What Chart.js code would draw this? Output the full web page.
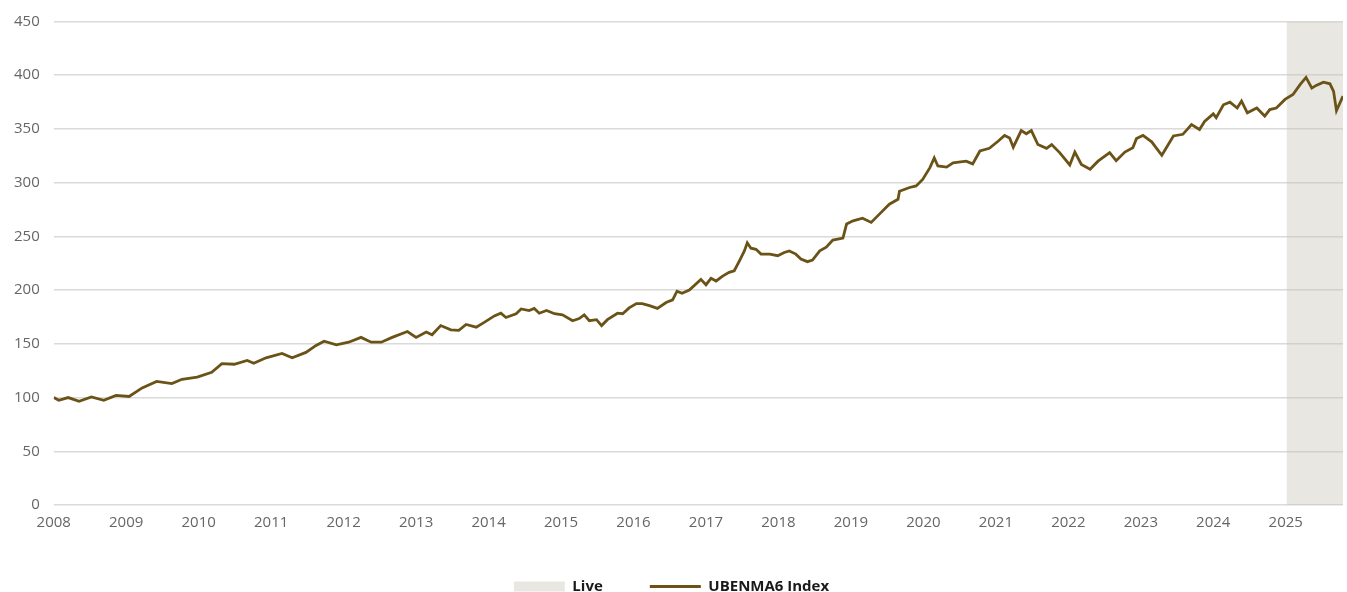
<!DOCTYPE html>
<html>
<head>
<meta charset="utf-8">
<script src="https://cdn.jsdelivr.net/npm/chart.js@4/dist/chart.umd.min.js"></script>
<style>
  html, body { margin: 0; padding: 0; background: #fff; }
  #wrap { width: 1347px; height: 592px; position: relative; }
</style>
</head>
<body>
<div id="wrap"><canvas id="indexChart"></canvas></div>
<script>
// Values (decimal year, index level)
const indexYears = [
  2008.00, 2008.07, 2008.20, 2008.35, 2008.52, 2008.69, 2008.86, 2009.04, 2009.22, 2009.42,
  2009.63, 2009.77, 2009.98, 2010.18, 2010.32, 2010.49, 2010.67, 2010.76, 2010.93, 2011.15,
  2011.29, 2011.48, 2011.62, 2011.73, 2011.90, 2012.07, 2012.24, 2012.38, 2012.52, 2012.67,
  2012.88, 2013.00, 2013.14, 2013.22, 2013.34, 2013.48, 2013.59, 2013.69, 2013.83, 2013.94,
  2014.08, 2014.17, 2014.24, 2014.38, 2014.45, 2014.56, 2014.63, 2014.70, 2014.80, 2014.91,
  2015.02, 2015.16, 2015.25, 2015.32, 2015.39, 2015.49, 2015.56, 2015.64, 2015.78, 2015.85,
  2015.94, 2016.04, 2016.12, 2016.22, 2016.33, 2016.45, 2016.54, 2016.60, 2016.67, 2016.77,
  2016.93, 2017.00, 2017.07, 2017.14, 2017.23, 2017.32, 2017.39, 2017.46, 2017.53, 2017.57,
  2017.62, 2017.69, 2017.76, 2017.88, 2017.99, 2018.08, 2018.15, 2018.24, 2018.31, 2018.40,
  2018.47, 2018.57, 2018.66, 2018.75, 2018.89, 2018.94, 2019.03, 2019.16, 2019.28, 2019.39,
  2019.53, 2019.65, 2019.67, 2019.81, 2019.90, 2019.99, 2020.09, 2020.15, 2020.20, 2020.32,
  2020.41, 2020.59, 2020.68, 2020.78, 2020.91, 2021.03, 2021.12, 2021.19, 2021.24, 2021.35,
  2021.42, 2021.49, 2021.58, 2021.70, 2021.77, 2021.88, 2022.02, 2022.09, 2022.18, 2022.30,
  2022.41, 2022.57, 2022.66, 2022.78, 2022.89, 2022.94, 2023.03, 2023.15, 2023.29, 2023.45,
  2023.58, 2023.70, 2023.81, 2023.88, 2024.00, 2024.04, 2024.14, 2024.23, 2024.33, 2024.39,
  2024.47, 2024.60, 2024.71, 2024.78, 2024.87, 2024.99, 2025.10, 2025.20, 2025.28, 2025.36,
  2025.42, 2025.52, 2025.61, 2025.66, 2025.70, 2025.79
];
const indexValues = [
  100, 97.5, 100, 96.5, 100.5, 97.5, 102, 101, 109, 115,
  113, 117, 119, 123.5, 131.5, 131, 134.5, 132, 137, 141,
  137, 142, 148.5, 152.5, 149, 151.5, 156, 151.5, 151.5, 156,
  161.5, 156, 161, 158.5, 167, 163, 162.5, 168, 165.5, 170,
  176, 178.5, 174.5, 178, 182.5, 181, 183, 178.5, 181, 178,
  177, 171.5, 173.5, 177, 171.5, 172.5, 167, 172.5, 178.5, 178,
  183.5, 187.5, 187.5, 185.5, 183, 188.5, 191, 199, 197, 200,
  210, 205, 211, 208.5, 213, 216.5, 218, 227, 236.5, 244,
  239, 238, 233.5, 233.5, 232, 235, 236.5, 233.5, 229, 226.5,
  228, 236.5, 240, 246.5, 248.5, 261.5, 264.5, 267, 263, 270.5,
  280, 284.5, 292, 295.5, 297, 303, 314, 323, 315.5, 314.5,
  318.5, 320, 317.5, 329.5, 332, 338.5, 344, 341.5, 333, 348.5,
  345.5, 348.5, 335.5, 332, 335.5, 328, 316.5, 328.5, 317, 312.5,
  320, 328, 320.5, 328.5, 332.5, 341, 344, 338, 325.5, 343.5,
  345, 354, 349.5, 357, 364, 360.5, 372.5, 375, 369.5, 376,
  365, 369.5, 362, 368, 369.5, 377.5, 382, 391.5, 398, 388,
  390.5, 393.5, 392, 385, 367, 380.5
];
const liveRange = [2025.01, 2025.79];
const yearTicks = [2008, 2009, 2010, 2011, 2012, 2013, 2014, 2015, 2016, 2017,
  2018, 2019, 2020, 2021, 2022, 2023, 2024, 2025];
const yMax = 450;

const lineColor = "#6b5318";
const liveColor = "rgba(200,196,180,0.4)";

const indexPoints = indexYears.map((x, i) => ({ x, y: indexValues[i] }));
const livePoints = liveRange.map((x) => ({ x, y: yMax }));

const ctx = document.getElementById("indexChart").getContext("2d");

new Chart(ctx, {
  type: "line",
  data: {
    datasets: [
      {
        label: "Live",
        data: livePoints,
        backgroundColor: liveColor,
        borderWidth: 0,
        fill: "origin",
        pointRadius: 0,
        pointStyle: "rect",
        order: 2,
      },
      {
        label: "UBENMA6 Index",
        data: indexPoints,
        borderColor: lineColor,
        backgroundColor: lineColor,
        borderWidth: 2.8,
        pointRadius: 0,
        pointStyle: "line",
        tension: 0,
        fill: false,
        order: 1,
      },
    ],
  },
  options: {
    responsive: true,
    maintainAspectRatio: false,
    animation: false,
    layout: { padding: { top: 6, right: 4, left: 0, bottom: -10 } },
    plugins: {
      tooltip: { enabled: false },
      legend: {
        position: "bottom",
        maxHeight: 70, // wide item gap without a tall legend box
        labels: {
          usePointStyle: true,
          pointStyleWidth: 51,
          boxHeight: 10,
          padding: 47,
          color: "#1a1a1a",
          font: { family: "'Open Sans', sans-serif", size: 15, weight: "bold" },
          // keep Live first, as in the reference
          sort: (a, b) => a.datasetIndex - b.datasetIndex,
        },
      },
    },
    scales: {
      x: {
        type: "linear",
        min: indexYears[0],
        max: liveRange[1],
        grid: { display: false, drawTicks: false },
        border: { display: false },
        afterBuildTicks: (axis) => {
          axis.ticks = yearTicks.map((v) => ({ value: v }));
        },
        afterFit: (axis) => {
          axis.height = 27;
        },
        ticks: {
          autoSkip: false,
          maxRotation: 0,
          padding: 9,
          color: "#666",
          font: { family: "'Open Sans', sans-serif", size: 15 },
          callback: (v) => String(v),
        },
      },
      y: {
        min: 0,
        max: yMax,
        grid: { color: "#dadada", lineWidth: 1.5, drawTicks: false },
        border: { display: false },
        ticks: {
          stepSize: 50,
          padding: 14,
          color: "#666",
          font: { family: "'Open Sans', sans-serif", size: 15, lineHeight: 1 },
        },
      },
    },
  },
});
</script>
</body>
</html>
